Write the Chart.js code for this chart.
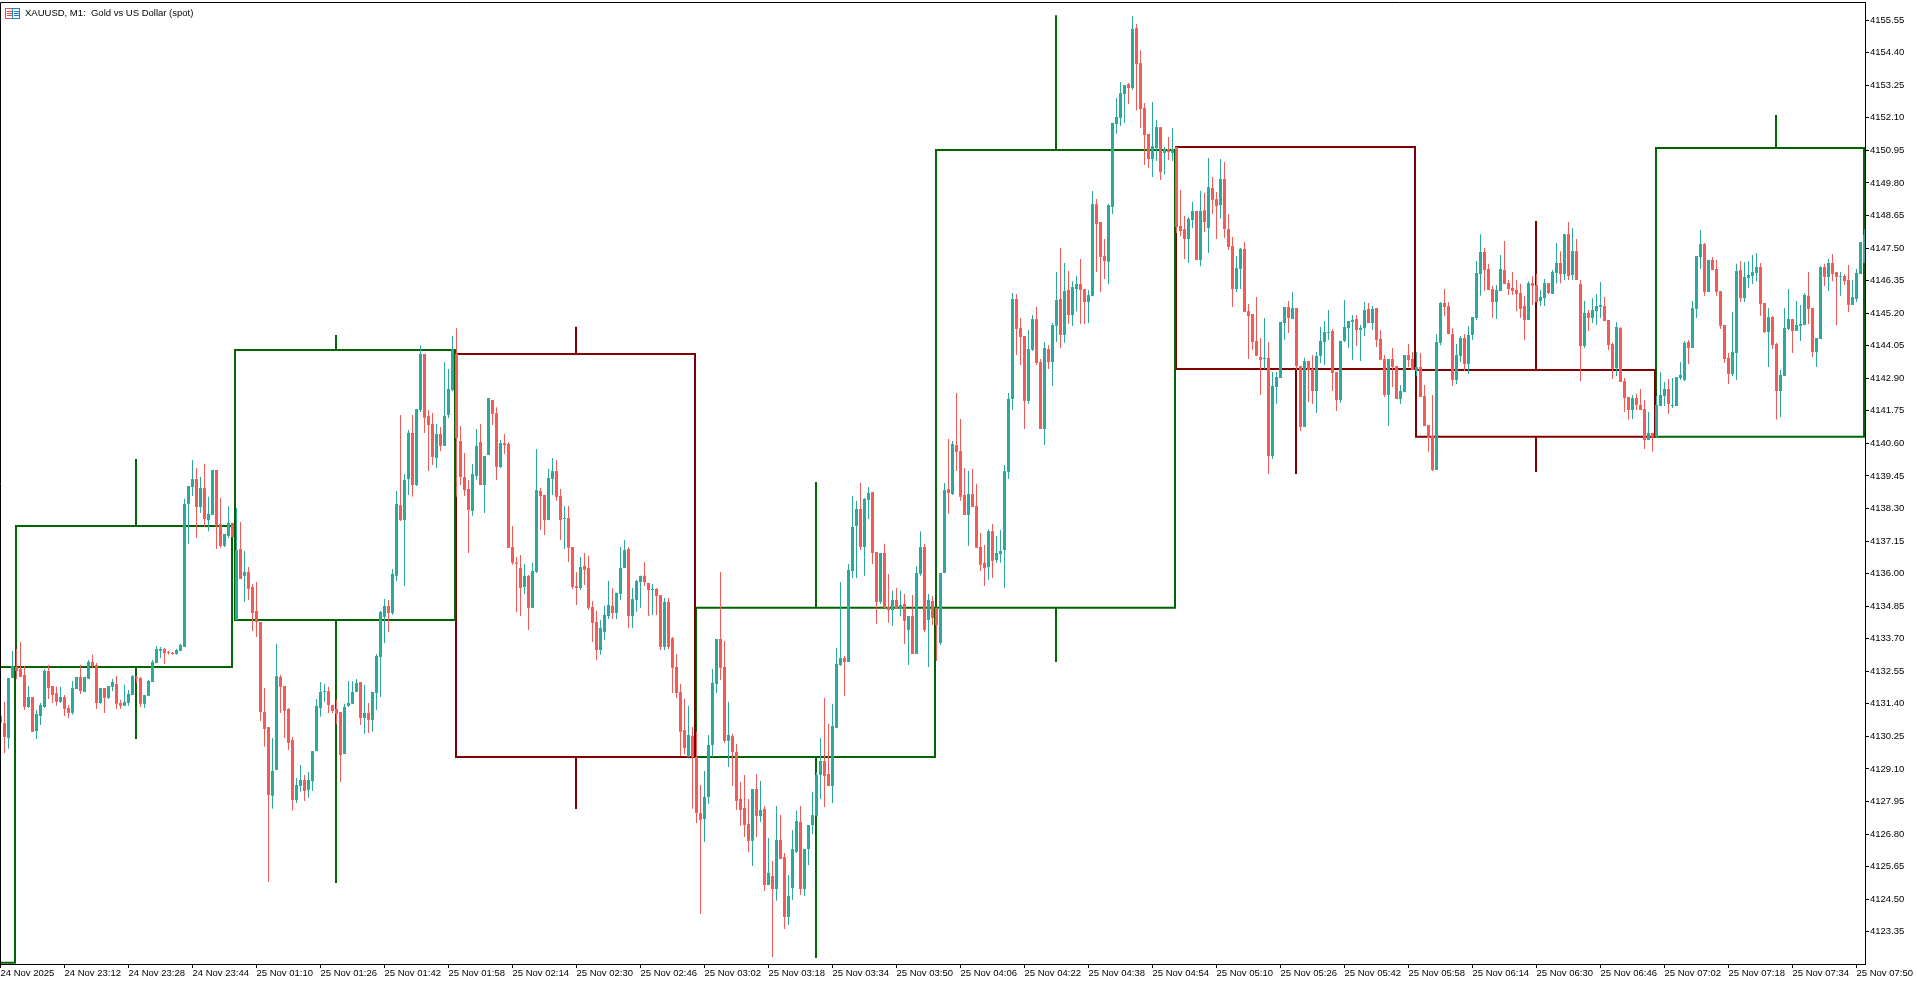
<!DOCTYPE html>
<html>
<head>
<meta charset="utf-8">
<title>XAUUSD, M1</title>
<script src="https://cdn.jsdelivr.net/npm/chart.js@4"></script>
<style>
html, body { margin: 0; padding: 0; background: #fff; overflow: hidden; }
canvas { display: block; }
</style>
</head>
<body>
<canvas id="myChart" width="1917" height="984"></canvas>
<script>
const opens = [
4130.97,4130.72,4130.19,4132.31,4132.70,4132.63,4132.42,4131.29,4131.64,4130.44,
4130.97,4131.29,4132.56,4132.03,4131.78,4131.47,4131.64,4131.25,4131.08,4131.92,
4132.35,4131.82,4132.28,4132.88,4132.77,4131.43,4131.96,4131.61,4132.00,4132.10,
4131.43,4131.33,4131.43,4131.71,4132.35,4132.31,4131.40,4131.68,4132.17,4132.84,
4133.27,4133.34,4133.23,4133.20,4133.16,4133.27,4133.41,4138.46,4139.06,4139.34,
4138.35,4139.02,4137.89,4138.07,4139.66,4137.75,4136.98,4137.33,4137.79,4134.36,
4136.87,4135.92,4136.06,4135.53,4134.68,4134.29,4131.11,4130.58,4128.15,4129.06,
4132.35,4132.03,4131.22,4130.12,4128.00,4128.50,4128.71,4128.36,4128.67,4129.73,
4131.25,4131.82,4131.85,4131.36,4131.22,4131.11,4129.63,4131.33,4131.40,4131.82,
4132.17,4130.90,4131.08,4130.83,4131.78,4133.06,4134.47,4134.86,4134.61,4135.92,
4138.42,4137.89,4139.34,4140.97,4139.13,4141.78,4143.76,4141.57,4141.28,4140.08,
4140.93,4140.51,4141.60,4142.48,4143.76,4140.68,4139.41,4138.99,4138.21,4139.45,
4140.65,4139.13,4140.19,4142.13,4141.67,4139.77,4140.61,4140.58,4136.94,4136.38,
4136.20,4135.53,4135.92,4134.79,4136.06,4138.92,4138.78,4137.89,4139.34,4139.62,
4138.74,4137.93,4137.96,4136.94,4135.56,4135.49,4136.27,4136.20,4134.82,4134.29,
4133.30,4133.94,4134.50,4134.86,4134.61,4135.28,4136.20,4136.87,4134.50,4135.07,
4135.70,4135.92,4135.67,4135.42,4135.46,4135.24,4133.41,4135.00,4133.72,4132.70,
4131.82,4130.47,4129.52,4130.26,4129.52,4127.54,4127.33,4128.11,4129.95,4132.10,
4133.69,4132.70,4130.09,4130.26,4129.70,4128.04,4127.72,4127.16,4126.56,4128.39,
4127.44,4127.69,4125.00,4125.32,4124.86,4126.59,4125.99,4123.87,4124.90,4126.17,
4127.23,4124.86,4126.27,4127.12,4127.44,4128.89,4129.38,4128.92,4128.50,4130.55,
4132.77,4133.02,4132.88,4136.09,4137.68,4138.28,4136.94,4138.60,4138.88,4136.76,
4135.00,4136.73,4134.82,4134.71,4135.07,4134.75,4134.93,4134.01,4134.50,4133.16,
4135.99,4136.94,4134.36,4135.03,4134.79,4133.55,4136.02,4138.99,4138.81,4140.54,
4140.33,4138.78,4138.07,4138.81,4138.39,4136.94,4136.38,4136.23,4137.50,4136.48,
4136.69,4136.83,4139.59,4142.17,4145.70,4144.67,4144.39,4142.10,4143.90,4144.99,
4143.47,4141.11,4143.93,4143.47,4144.75,4145.70,4144.43,4146.02,4145.13,4146.05,
4146.23,4146.05,4145.59,4145.81,4149.05,4148.42,4147.22,4147.01,4148.95,4151.88,
4152.09,4152.94,4153.29,4153.15,4155.27,4154.03,4152.45,4151.53,4150.64,4151.03,
4151.77,4150.86,4151.00,4150.86,4151.07,4148.28,4148.17,4147.82,4148.49,4148.81,
4147.08,4148.84,4148.21,4149.62,4149.23,4149.02,4149.94,4148.17,4147.57,4146.05,
4146.76,4147.47,4145.27,4145.17,4144.22,4143.65,4143.58,4143.62,4140.15,4142.59,
4142.91,4144.85,4145.42,4144.99,4145.38,4143.33,4141.18,4143.51,4143.23,4142.45,
4143.69,4144.18,4144.50,4144.57,4143.12,4142.13,4144.22,4144.67,4144.89,4144.99,
4144.60,4144.67,4145.35,4144.85,4145.38,4144.29,4143.58,4142.31,4143.58,4143.33,
4142.17,4142.41,4143.72,4143.58,4143.16,4143.30,4142.27,4141.25,4140.86,4139.66,
4144.15,4145.56,4145.45,4144.46,4142.84,4143.69,4144.32,4143.40,4144.43,4145.03,
4146.58,4147.36,4146.76,4146.05,4145.59,4145.98,4146.72,4146.26,4146.09,4146.02,
4145.91,4145.45,4144.96,4146.26,4146.19,4145.63,4145.73,4146.26,4145.88,4146.62,
4146.97,4146.58,4147.99,4146.55,4147.39,4146.23,4144.04,4145.21,4145.03,4145.27,
4145.42,4145.45,4144.96,4144.11,4143.26,4144.67,4142.80,4142.24,4141.78,4142.20,
4141.96,4141.81,4140.72,4140.97,4140.83,4141.92,4142.27,4142.52,4141.92,4141.92,
4142.91,4142.84,4144.18,4143.97,4145.35,4147.18,4147.64,4145.95,4147.08,4146.76,
4145.98,4144.78,4143.62,4143.05,4143.79,4146.72,4145.73,4146.44,4146.51,4146.62,
4146.83,4145.56,4144.53,4145.06,4144.11,4142.45,4142.98,4144.64,4144.99,4144.57,
4144.75,4144.78,4145.81,4145.38,4143.83,4144.29,4146.83,4146.48,4146.97,4146.65,
4146.48,4146.51,4146.37,4145.49,4145.70,4146.58,4146.97
]
const highs = [
4131.04,4131.47,4132.31,4133.27,4133.34,4133.58,4132.74,4132.03,4131.64,4131.18,
4131.43,4132.63,4132.77,4132.03,4132.00,4132.00,4131.71,4131.36,4132.21,4132.35,
4132.77,4132.35,4132.95,4133.13,4132.84,4131.96,4131.96,4132.03,4132.28,4132.38,
4131.54,4132.07,4131.89,4132.42,4132.38,4132.35,4131.71,4132.24,4132.95,4133.44,
4133.41,4133.37,4133.27,4133.23,4133.34,4133.51,4138.64,4139.09,4140.01,4139.73,
4139.41,4139.87,4138.71,4139.66,4139.66,4138.67,4137.40,4138.39,4137.79,4138.32,
4137.82,4136.80,4136.23,4135.63,4135.70,4134.29,4131.96,4130.58,4130.19,4133.51,
4132.42,4132.03,4131.25,4130.23,4128.78,4129.24,4128.89,4128.99,4129.73,4131.57,
4132.17,4132.10,4132.00,4131.36,4131.54,4131.11,4131.40,4132.21,4132.21,4132.28,
4132.17,4132.07,4131.43,4131.82,4133.16,4134.68,4135.10,4135.07,4136.16,4138.92,
4141.60,4139.52,4141.07,4141.60,4141.81,4144.07,4143.76,4141.78,4141.67,4141.28,
4141.18,4143.47,4143.23,4144.39,4144.67,4141.21,4140.26,4139.31,4139.87,4141.11,
4141.28,4140.15,4142.20,4142.13,4141.88,4140.72,4140.93,4140.65,4137.68,4136.59,
4136.66,4136.34,4135.95,4136.38,4140.40,4139.02,4138.78,4139.70,4140.08,4140.01,
4138.99,4138.39,4138.39,4136.94,4136.06,4136.59,4136.73,4136.62,4135.03,4134.68,
4134.36,4134.86,4135.74,4135.49,4135.32,4136.94,4137.19,4136.94,4135.49,4135.77,
4135.92,4136.41,4135.67,4135.63,4135.49,4135.24,4135.14,4135.14,4133.76,4133.16,
4132.10,4131.57,4131.33,4130.58,4130.41,4128.53,4129.03,4130.30,4132.63,4133.69,
4136.06,4133.62,4131.47,4130.34,4129.98,4128.64,4128.89,4128.04,4128.39,4128.92,
4128.67,4127.79,4126.66,4125.85,4127.79,4127.47,4126.13,4125.35,4126.94,4127.62,
4127.79,4126.27,4127.12,4128.29,4128.99,4130.19,4131.61,4130.69,4131.40,4133.37,
4135.70,4133.09,4136.34,4138.74,4138.57,4139.20,4138.67,4139.06,4138.88,4136.76,
4136.73,4137.05,4135.99,4135.39,4135.49,4135.39,4135.28,4134.50,4135.24,4136.27,
4137.50,4137.05,4135.28,4135.21,4134.79,4136.02,4139.20,4140.75,4140.68,4142.38,
4141.46,4139.73,4139.62,4139.70,4139.17,4137.43,4137.01,4137.57,4137.75,4137.33,
4137.54,4139.84,4142.38,4145.91,4145.88,4145.03,4144.39,4144.60,4145.13,4145.42,
4143.58,4144.18,4144.07,4144.85,4146.65,4147.50,4146.97,4146.69,4146.33,4146.51,
4147.11,4146.05,4146.02,4149.51,4149.23,4148.42,4147.82,4149.05,4151.92,4152.80,
4153.36,4153.26,4153.33,4155.69,4155.41,4154.49,4152.62,4151.53,4152.66,4152.02,
4151.77,4151.07,4151.42,4151.74,4151.07,4149.55,4148.63,4148.60,4149.13,4148.81,
4149.51,4149.44,4150.68,4150.01,4149.48,4150.64,4150.54,4148.70,4147.89,4147.22,
4147.50,4147.71,4145.52,4145.17,4145.77,4144.32,4145.03,4144.18,4143.12,4143.12,
4144.89,4145.42,4145.63,4145.95,4145.38,4143.33,4143.62,4143.51,4143.72,4143.83,
4144.71,4144.92,4145.31,4144.64,4143.12,4144.22,4145.66,4144.92,4145.13,4145.13,
4144.78,4145.59,4145.56,4145.45,4145.38,4144.60,4143.72,4143.58,4143.97,4143.33,
4142.66,4143.72,4144.11,4143.83,4143.83,4143.79,4142.66,4141.25,4142.31,4144.46,
4145.59,4146.05,4145.59,4144.67,4144.11,4144.39,4144.46,4144.75,4145.06,4147.04,
4147.99,4147.50,4146.94,4146.16,4146.19,4147.25,4147.75,4146.37,4146.65,4146.37,
4146.23,4145.81,4146.33,4146.51,4146.58,4146.02,4146.41,4146.26,4146.72,4147.68,
4147.39,4147.99,4148.42,4148.21,4147.82,4146.37,4145.63,4145.31,4145.73,4145.88,
4146.30,4145.77,4144.96,4144.15,4144.89,4144.71,4142.91,4142.24,4142.31,4142.34,
4142.52,4142.13,4141.71,4140.97,4142.27,4143.12,4142.77,4142.87,4142.91,4142.94,
4143.47,4144.22,4144.25,4145.63,4147.22,4148.14,4147.68,4147.08,4147.18,4147.08,
4145.98,4144.78,4143.79,4145.24,4146.94,4147.04,4147.01,4147.04,4147.25,4147.32,
4146.97,4145.56,4145.38,4145.10,4144.15,4143.19,4145.38,4146.05,4144.99,4145.63,
4145.49,4145.91,4146.65,4145.38,4144.32,4146.86,4146.94,4147.11,4147.29,4146.65,
4146.65,4146.58,4146.90,4146.37,4146.76,4147.71,4148.17
]
const lows = [
4130.62,4129.66,4129.81,4132.31,4132.28,4132.35,4131.18,4131.25,4130.41,4130.16,
4130.65,4131.25,4131.57,4131.43,4131.33,4131.43,4130.97,4130.90,4131.01,4131.92,
4131.75,4131.82,4132.28,4132.67,4131.22,4131.40,4131.08,4131.57,4131.85,4131.22,
4131.22,4131.33,4131.33,4131.71,4132.14,4131.29,4131.25,4131.68,4132.17,4132.84,
4133.02,4132.81,4133.13,4133.13,4133.13,4133.27,4133.41,4137.05,4138.74,4137.26,
4138.14,4137.65,4137.50,4138.07,4136.87,4136.91,4136.94,4137.26,4137.29,4134.36,
4135.81,4135.00,4135.07,4133.97,4133.76,4130.79,4129.88,4125.11,4127.69,4129.06,
4131.08,4130.19,4129.77,4127.62,4127.90,4128.29,4127.97,4128.08,4128.32,4129.73,
4130.94,4131.47,4131.08,4131.08,4130.69,4128.64,4129.63,4131.29,4131.40,4131.82,
4130.65,4130.34,4130.37,4130.41,4131.18,4131.64,4133.55,4133.94,4134.54,4135.74,
4137.86,4135.56,4138.78,4138.71,4139.09,4141.71,4140.97,4139.62,4139.84,4139.73,
4140.33,4140.51,4141.50,4142.45,4138.71,4139.13,4138.74,4136.73,4138.04,4139.31,
4139.13,4138.14,4140.19,4141.25,4139.31,4139.73,4140.22,4136.91,4136.31,4134.64,
4134.50,4135.28,4134.01,4134.79,4136.02,4137.54,4137.36,4137.89,4138.78,4138.57,
4137.19,4136.87,4136.41,4135.46,4134.89,4135.42,4135.60,4134.71,4133.58,4132.95,
4133.13,4133.66,4134.40,4134.40,4134.40,4135.07,4136.20,4134.08,4134.08,4134.64,
4134.79,4135.56,4134.50,4134.54,4134.54,4133.30,4133.30,4133.34,4131.78,4131.61,
4129.56,4129.63,4129.52,4127.69,4127.19,4123.98,4126.52,4127.86,4129.52,4131.78,
4132.24,4130.02,4129.17,4128.50,4127.65,4127.09,4126.70,4126.17,4125.67,4126.70,
4127.23,4124.79,4125.00,4122.46,4124.44,4125.92,4123.45,4123.59,4124.47,4126.13,
4124.65,4124.61,4125.71,4126.80,4127.44,4128.04,4127.76,4128.50,4127.90,4130.55,
4132.74,4131.68,4132.88,4135.84,4135.84,4136.83,4135.92,4137.93,4136.34,4134.22,
4134.93,4134.79,4134.26,4134.15,4134.75,4134.50,4133.51,4132.77,4133.16,4133.16,
4135.92,4133.94,4132.70,4134.18,4132.91,4133.48,4136.02,4138.11,4138.78,4139.62,
4138.57,4138.07,4136.98,4138.35,4136.91,4136.09,4135.56,4135.77,4135.84,4136.38,
4136.38,4135.49,4139.34,4141.78,4143.72,4143.37,4141.11,4141.99,4143.86,4143.37,
4141.11,4140.54,4143.23,4142.63,4144.18,4143.97,4144.15,4144.82,4144.75,4145.27,
4144.82,4144.82,4144.85,4145.81,4146.65,4145.95,4146.41,4146.23,4148.70,4151.53,
4151.81,4151.92,4152.59,4153.08,4152.37,4151.74,4150.43,4150.33,4150.01,4150.57,
4149.90,4150.11,4150.61,4150.57,4148.03,4147.92,4147.11,4146.97,4148.21,4147.08,
4146.86,4148.07,4147.32,4148.70,4147.82,4148.53,4147.85,4147.43,4145.42,4145.95,
4146.05,4145.24,4143.58,4143.90,4143.69,4142.31,4143.23,4139.52,4140.05,4141.99,
4142.91,4144.25,4144.50,4144.99,4143.19,4141.04,4141.18,4142.06,4141.99,4141.67,
4143.44,4143.37,4144.25,4142.45,4141.74,4142.03,4144.18,4143.97,4143.55,4144.04,
4143.51,4144.39,4144.85,4144.60,4144.00,4143.55,4142.24,4141.21,4142.59,4142.17,
4141.99,4142.41,4143.30,4143.19,4142.98,4142.24,4141.21,4140.30,4139.62,4139.66,
4144.07,4145.10,4144.46,4142.63,4142.70,4143.47,4143.16,4143.05,4144.25,4144.96,
4145.81,4145.98,4146.02,4145.03,4144.99,4145.98,4146.23,4145.84,4145.84,4145.27,
4145.03,4144.25,4144.96,4145.49,4145.59,4145.45,4145.45,4145.88,4145.88,4146.26,
4146.26,4146.37,4146.37,4146.37,4146.37,4142.80,4143.97,4144.57,4144.85,4144.78,
4145.03,4144.92,4143.90,4142.87,4142.98,4142.77,4141.71,4141.43,4141.46,4141.78,
4141.78,4140.40,4140.72,4140.30,4140.83,4141.92,4141.92,4141.64,4141.85,4141.92,
4142.84,4142.80,4143.40,4143.97,4145.03,4146.76,4145.81,4145.95,4146.72,4145.81,
4144.64,4143.44,4142.70,4142.98,4142.84,4145.59,4145.59,4146.09,4146.23,4146.33,
4145.10,4144.50,4143.30,4143.93,4141.43,4141.53,4142.98,4144.60,4143.79,4144.57,
4144.22,4144.78,4144.82,4143.65,4143.30,4144.29,4146.16,4145.98,4146.33,4144.78,
4145.81,4146.19,4145.24,4145.49,4145.59,4146.58,4146.97
]
const closes = [
4130.72,4130.23,4132.31,4132.74,4132.56,4132.35,4131.29,4131.64,4130.41,4131.04,
4131.36,4132.56,4131.96,4131.71,4131.47,4131.64,4131.22,4131.08,4131.96,4132.35,
4131.85,4132.35,4132.88,4132.74,4131.43,4131.96,4131.61,4132.03,4132.17,4131.40,
4131.33,4131.47,4131.75,4132.38,4132.31,4131.40,4131.71,4132.21,4132.88,4133.34,
4133.34,4133.20,4133.20,4133.16,4133.30,4133.48,4138.46,4139.09,4139.34,4138.35,
4139.02,4137.93,4138.11,4139.66,4137.68,4136.98,4137.40,4137.79,4137.29,4136.83,
4135.81,4136.06,4135.46,4134.61,4134.29,4131.11,4130.51,4128.18,4129.03,4132.38,
4132.00,4131.15,4130.02,4128.00,4128.53,4128.71,4128.32,4128.71,4129.73,4131.33,
4131.82,4131.85,4131.36,4131.15,4131.04,4129.59,4131.29,4131.43,4131.82,4132.14,
4130.90,4131.08,4130.83,4131.82,4133.09,4134.64,4134.86,4134.61,4135.99,4138.46,
4137.89,4139.31,4140.97,4139.13,4141.81,4143.76,4141.50,4141.25,4140.12,4140.93,
4140.51,4141.57,4142.52,4143.93,4140.79,4139.41,4138.95,4138.25,4139.52,4140.51,
4139.13,4140.15,4142.20,4141.64,4139.77,4140.61,4140.54,4136.91,4136.38,4136.34,
4135.49,4135.92,4134.79,4136.09,4138.95,4138.74,4137.89,4139.38,4139.62,4138.71,
4137.89,4137.96,4136.91,4135.53,4135.49,4136.23,4136.13,4134.79,4134.26,4133.30,
4134.08,4134.54,4134.89,4134.61,4135.32,4136.20,4136.83,4134.50,4135.10,4135.74,
4135.92,4135.70,4135.42,4135.46,4135.21,4133.41,4135.00,4133.41,4132.67,4131.78,
4130.41,4129.84,4130.30,4129.52,4127.54,4127.30,4128.11,4129.95,4132.14,4133.69,
4132.67,4130.09,4130.30,4129.70,4127.97,4127.65,4127.12,4126.56,4128.39,4127.44,
4127.65,4125.00,4125.43,4124.86,4126.59,4125.92,4123.87,4124.61,4126.27,4127.26,
4124.86,4126.27,4127.12,4127.47,4128.89,4129.38,4128.85,4128.50,4130.62,4132.81,
4133.02,4132.88,4136.13,4137.65,4138.28,4136.94,4138.64,4138.85,4136.73,4135.00,
4136.73,4134.79,4134.71,4135.07,4134.75,4134.89,4134.33,4134.50,4133.16,4136.02,
4136.94,4134.01,4135.07,4134.43,4134.18,4136.02,4138.95,4138.85,4140.58,4140.30,
4138.71,4138.07,4138.81,4138.35,4136.91,4136.31,4136.20,4137.50,4136.45,4136.73,
4136.80,4139.62,4142.17,4145.70,4144.64,4144.36,4142.10,4143.93,4144.99,4143.44,
4141.11,4143.97,4143.47,4144.78,4145.66,4144.43,4145.98,4145.13,4146.12,4146.23,
4146.02,4145.59,4145.84,4149.05,4148.35,4147.18,4147.04,4149.02,4151.92,4152.13,
4152.97,4153.26,4153.15,4155.24,4154.00,4152.41,4151.49,4150.64,4151.10,4151.77,
4150.18,4151.00,4150.89,4151.00,4148.24,4148.10,4147.82,4148.53,4148.81,4147.08,
4148.81,4148.42,4149.65,4149.20,4148.98,4149.94,4148.17,4147.54,4146.05,4146.79,
4147.47,4145.24,4145.10,4144.18,4143.69,4143.55,4143.62,4140.15,4142.63,4142.94,
4144.89,4145.42,4145.03,4145.38,4143.33,4141.18,4143.51,4143.19,4142.45,4143.69,
4144.22,4144.53,4144.53,4143.09,4142.13,4144.22,4144.71,4144.92,4144.96,4144.60,
4144.67,4145.31,4144.85,4145.35,4144.25,4143.55,4142.31,4143.58,4143.30,4142.17,
4142.45,4143.72,4143.55,4143.19,4143.30,4142.24,4141.21,4140.79,4139.66,4144.18,
4145.56,4145.42,4144.46,4142.84,4143.72,4144.32,4143.40,4144.43,4145.06,4146.62,
4147.36,4146.72,4146.02,4145.59,4146.02,4146.76,4146.23,4146.05,4145.98,4145.88,
4145.35,4144.96,4146.26,4146.16,4145.59,4145.77,4146.26,4145.91,4146.65,4146.97,
4146.58,4147.99,4146.51,4147.39,4146.37,4144.04,4145.21,4145.03,4145.31,4145.45,
4145.49,4144.92,4144.07,4143.23,4144.71,4142.77,4142.20,4141.78,4142.20,4141.96,
4141.78,4140.72,4140.97,4140.83,4141.96,4142.31,4142.52,4141.99,4141.96,4142.94,
4143.02,4144.15,4143.97,4145.38,4147.22,4147.64,4145.95,4147.08,4146.72,4145.95,
4144.75,4143.58,4143.05,4143.83,4146.69,4145.73,4146.48,4146.55,4146.65,4146.83,
4145.52,4144.53,4145.06,4144.07,4142.45,4143.02,4144.67,4144.99,4144.57,4144.78,
4144.82,4145.84,4145.35,4143.83,4144.32,4146.83,4146.48,4146.97,4146.58,4146.48,
4146.51,4146.33,4145.49,4145.77,4146.62,4147.71,4147.96
]

// higher timeframe candles drawn over the M1 bars
const htfStart = [-4, 3.875, 58.625, 113.875, 173.875, 233.875, 293.875, 353.875, 413.875]
const htfEnd = [3.625, 57.875, 113.625, 173.625, 233.625, 293.625, 353.625, 413.625, 465.875]
const htfMid = [0, 33.875, 83.875, 143.875, 203.875, 263.875, 323.875, 383.875, 443.875]
const htfOpen = [4122.25, 4132.70, 4134.36, 4143.76, 4129.52, 4134.79, 4151.07, 4143.19, 4140.83]
const htfClose = [4132.70, 4137.68, 4143.90, 4129.52, 4134.79, 4150.96, 4143.23, 4140.83, 4151.03]
const htfHigh = [4132.70, 4140.01, 4144.39, 4144.68, 4139.20, 4155.69, 4151.07, 4148.42, 4152.16]
const htfLow = [4122.25, 4130.19, 4125.11, 4127.72, 4122.46, 4132.91, 4139.55, 4139.62, 4140.83]

const priceTicks = [4123.35, 4124.50, 4125.65, 4126.80, 4127.95, 4129.10, 4130.25, 4131.40, 4132.55, 4133.70,
    4134.85, 4136.00, 4137.15, 4138.30, 4139.45, 4140.60, 4141.75, 4142.90, 4144.05, 4145.20,
    4146.35, 4147.50, 4148.65, 4149.80, 4150.95, 4152.10, 4153.25, 4154.40, 4155.55]
const timeTicks = [0, 16, 32, 48, 64, 80, 96, 112, 128, 144, 160, 176, 192, 208, 224, 240, 256, 272, 288, 304,
    320, 336, 352, 368, 384, 400, 416, 432, 448, 464]
const timeLabels = ["24 Nov 2025", "24 Nov 23:12", "24 Nov 23:28", "24 Nov 23:44", "25 Nov 01:10", "25 Nov 01:26",
    "25 Nov 01:42", "25 Nov 01:58", "25 Nov 02:14", "25 Nov 02:30", "25 Nov 02:46", "25 Nov 03:02", "25 Nov 03:18",
    "25 Nov 03:34", "25 Nov 03:50", "25 Nov 04:06", "25 Nov 04:22", "25 Nov 04:38", "25 Nov 04:54", "25 Nov 05:10",
    "25 Nov 05:26", "25 Nov 05:42", "25 Nov 05:58", "25 Nov 06:14", "25 Nov 06:30", "25 Nov 06:46", "25 Nov 07:02",
    "25 Nov 07:18", "25 Nov 07:34", "25 Nov 07:50"]

const UP = '#2aa99c'
const DOWN = '#f45b58'
const TICK_FONT = { family: '"Liberation Sans", Arial, sans-serif', size: 9.5 }

let candleColors = opens.map((o, i) => closes[i] >= o ? UP : DOWN)

let datasets = [
    {
        label: 'body', order: 1, barThickness: 3, grouped: false, inflateAmount: 0, borderWidth: 0,
        backgroundColor: candleColors,
        data: opens.map((o, i) => ({ x: i, y: [o, closes[i]] }))
    },
    {
        label: 'wick', order: 2, barThickness: 1, grouped: false, inflateAmount: 0, borderWidth: 0,
        backgroundColor: candleColors,
        data: lows.map((l, i) => ({ x: i, y: [l, highs[i]] }))
    }
]

htfOpen.forEach((o, i) => {
    let c = htfClose[i]
    let top = Math.max(o, c), bottom = Math.min(o, c)
    let pts = [
        { x: htfStart[i], y: top }, { x: htfEnd[i], y: top }, { x: htfEnd[i], y: bottom },
        { x: htfStart[i], y: bottom }, { x: htfStart[i], y: top }, { x: htfStart[i], y: null },
        { x: htfMid[i], y: htfHigh[i] }, { x: htfMid[i], y: top }, { x: htfMid[i], y: null },
        { x: htfMid[i], y: bottom }, { x: htfMid[i], y: htfLow[i] }
    ]
    datasets.push({
        type: 'line', label: 'htf' + i, order: 3, data: pts, borderColor: c >= o ? '#006400' : '#800000',
        borderWidth: 2, pointRadius: 0, tension: 0, spanGaps: false, fill: false,
        borderJoinStyle: 'miter', borderCapStyle: 'square'
    })
})

const frame = {
    id: 'frame',
    afterDraw(chart) {
        let ctx = chart.ctx, a = chart.chartArea
        ctx.save()
        ctx.strokeStyle = '#000'
        ctx.lineWidth = 1
        ctx.beginPath()
        ctx.moveTo(0.5, a.bottom + 0.5)
        ctx.lineTo(0.5, a.top + 0.5)
        ctx.lineTo(a.right + 0.5, a.top + 0.5)
        ctx.lineTo(a.right + 0.5, a.bottom + 0.5)
        ctx.lineTo(0.5, a.bottom + 0.5)
        ctx.stroke()

        // symbol icon
        ctx.strokeStyle = '#f0473f'
        ctx.strokeRect(5.5, 8.5, 7, 10)
        ctx.fillStyle = '#f0473f'
        ctx.fillRect(7, 11, 5, 1); ctx.fillRect(7, 13, 5, 1); ctx.fillRect(7, 15, 5, 1)
        ctx.strokeStyle = '#1c7fd0'
        ctx.strokeRect(12.5, 8.5, 7, 10)
        ctx.fillStyle = '#1c7fd0'
        ctx.fillRect(14, 11, 5, 1); ctx.fillRect(14, 13, 5, 1); ctx.fillRect(14, 15, 5, 1)

        ctx.fillStyle = '#000'
        ctx.font = '9.5px "Liberation Sans", Arial, sans-serif'
        ctx.textBaseline = 'middle'
        ctx.textAlign = 'left'
        ctx.fillText('XAUUSD, M1:  Gold vs US Dollar (spot)', 25, 13.5)
        ctx.restore()
    }
}

function noPadding(scale) {
    scale.paddingTop = 0
    scale.paddingBottom = 0
    scale.paddingLeft = 0
    scale.paddingRight = 0
}

let ctx = document.getElementById('myChart').getContext('2d')
let chart = new Chart(ctx, {
    type: 'bar',
    data: { datasets: datasets },
    plugins: [frame],
    options: {
        responsive: false,
        animation: false,
        devicePixelRatio: 1,
        layout: { autoPadding: false, padding: { top: 2, left: 0, right: 0, bottom: 0 } },
        plugins: { legend: { display: false }, title: { display: false }, tooltip: { enabled: false } },
        events: [],
        scales: {
            x: {
                type: 'linear', position: 'bottom', min: -0.125, max: 466.125, offset: false,
                grid: { drawOnChartArea: false, drawTicks: true, tickLength: 4, tickColor: '#000', offset: false },
                border: { color: '#000', width: 1 },
                afterBuildTicks(scale) { scale.ticks = timeTicks.map(v => ({ value: v })) },
                afterFit(scale) { scale.height = 20; noPadding(scale) },
                ticks: {
                    autoSkip: false, maxRotation: 0, minRotation: 0, align: 'start', padding: 0,
                    color: '#000', font: TICK_FONT,
                    callback(value, index) { return timeLabels[index] }
                }
            },
            y: {
                type: 'linear', position: 'right', min: 4122.21, max: 4156.19,
                grid: { drawOnChartArea: false, drawTicks: true, tickLength: 4, tickColor: '#000' },
                border: { color: '#000', width: 1 },
                afterBuildTicks(scale) { scale.ticks = priceTicks.map(v => ({ value: v })) },
                afterFit(scale) { scale.width = 52; noPadding(scale) },
                ticks: {
                    autoSkip: false, padding: 1, color: '#000', font: TICK_FONT,
                    callback(value) { return value.toFixed(2) }
                }
            }
        }
    }
})
</script>
</body>
</html>
